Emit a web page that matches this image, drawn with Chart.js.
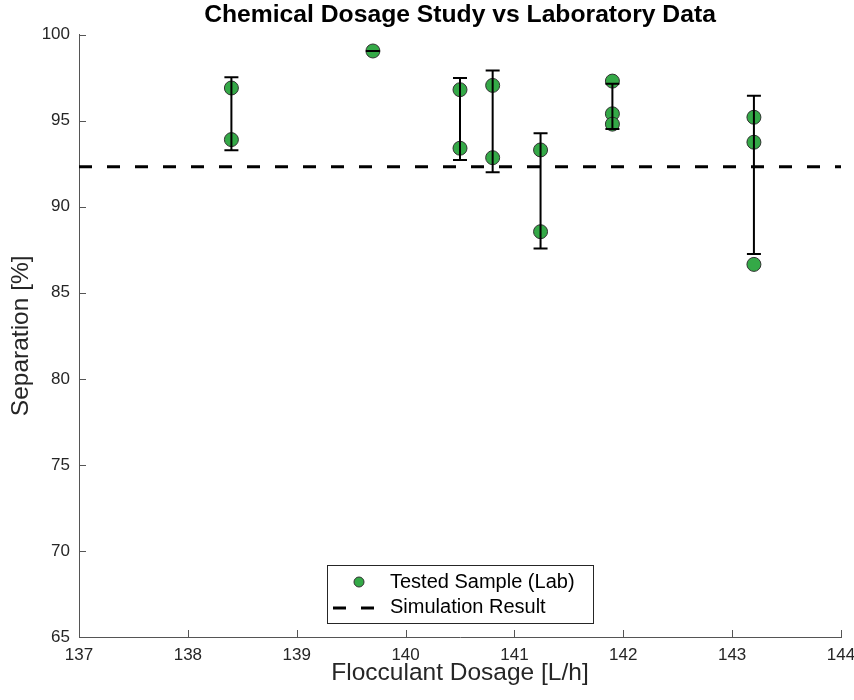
<!DOCTYPE html>
<html>
<head>
<meta charset="utf-8">
<script src="https://cdn.jsdelivr.net/npm/chart.js@4.4.1/dist/chart.umd.min.js"></script>
<style>
    html, body { margin: 0; padding: 0; background: #fff; }
    #wrap { width: 854px; height: 700px; }
</style>
</head>
<body>
<div id="wrap"><canvas id="dosage-chart" width="854" height="700"></canvas></div>
<script>
// lab samples (x = dosage, y = separation)
const dosage = [138.4, 138.4, 139.7, 140.5, 140.5, 140.8, 140.8, 141.24, 141.24, 141.9, 141.9, 141.9, 143.2, 143.2, 143.2];
const separation = [96.9, 93.9, 99.05, 96.8, 93.4, 97.05, 92.85, 93.3, 88.55, 97.3, 95.4, 94.8, 95.2, 93.75, 86.65];

// error bars per dosage group
const groupDosage = [138.4, 139.7, 140.5, 140.8, 141.24, 141.9, 143.2];
const errLow = [93.28, 99.05, 92.72, 92.0, 87.57, 94.52, 87.25];
const errHigh = [97.52, 99.05, 97.48, 97.92, 94.27, 97.14, 96.45];

// simulation line
const simDosage = [137, 144];
const simSeparation = [92.32, 92.32];

const xTicks = [137, 138, 139, 140, 141, 142, 143, 144];
const yTicks = [65, 70, 75, 80, 85, 90, 95, 100];

const FONT = "'Liberation Sans', Arial, Helvetica, sans-serif";
const GREEN = "#34a947";
const INK = "#262626";

const samplePoints = dosage.map((d, i) => ({ x: d, y: separation[i] }));
const simPoints = simDosage.map((d, i) => ({ x: d, y: simSeparation[i] }));

// error bars + inward ticks + legend, drawn by hand
const extrasPlugin = {
    id: "extras",
    afterDatasetsDraw(chart) {
        const ctx = chart.ctx;
        const xs = chart.scales.x;
        const ys = chart.scales.y;
        ctx.save();
        ctx.strokeStyle = "#000";
        ctx.lineWidth = 2;
        groupDosage.forEach((g, i) => {
            const px = xs.getPixelForValue(g);
            const top = ys.getPixelForValue(errHigh[i]);
            const bot = ys.getPixelForValue(errLow[i]);
            ctx.beginPath();
            ctx.moveTo(px, top);
            ctx.lineTo(px, bot);
            ctx.moveTo(px - 7, top);
            ctx.lineTo(px + 7, top);
            ctx.moveTo(px - 7, bot);
            ctx.lineTo(px + 7, bot);
            ctx.stroke();
        });
        ctx.restore();
    },
    afterDraw(chart) {
        const ctx = chart.ctx;
        const area = chart.chartArea;
        const xs = chart.scales.x;
        const ys = chart.scales.y;
        ctx.save();
        // inward tick marks (matlab style)
        ctx.strokeStyle = "#555";
        ctx.lineWidth = 1;
        ctx.beginPath();
        xTicks.forEach(t => {
            const px = Math.round(xs.getPixelForValue(t)) + 0.5;
            ctx.moveTo(px, area.bottom);
            ctx.lineTo(px, area.bottom - 7);
        });
        yTicks.forEach(t => {
            const py = Math.round(ys.getPixelForValue(t)) + 0.5;
            ctx.moveTo(area.left, py);
            ctx.lineTo(area.left + 7, py);
        });
        ctx.stroke();

        // legend box
        const lx = 327, ly = 565, lw = 266, lh = 58;
        ctx.fillStyle = "#fff";
        ctx.fillRect(lx, ly, lw, lh);
        ctx.strokeStyle = INK;
        ctx.strokeRect(lx + 0.5, ly + 0.5, lw, lh);

        ctx.beginPath();
        ctx.arc(359, 582, 5, 0, Math.PI * 2);
        ctx.fillStyle = GREEN;
        ctx.fill();
        ctx.strokeStyle = "#333";
        ctx.lineWidth = 1;
        ctx.stroke();

        ctx.strokeStyle = "#000";
        ctx.lineWidth = 3;
        ctx.beginPath();
        ctx.moveTo(333, 608); ctx.lineTo(346, 608);
        ctx.moveTo(361, 608); ctx.lineTo(374, 608);
        ctx.stroke();

        ctx.fillStyle = "#000";
        ctx.font = "20px " + FONT;
        ctx.textBaseline = "alphabetic";
        ctx.fillText("Tested Sample (Lab)", 390, 588);
        ctx.fillText("Simulation Result", 390, 613);
        ctx.restore();
    }
};

const dosageChart = new Chart(document.getElementById("dosage-chart"), {
    type: "scatter",
    data: {
        datasets: [
            {
                label: "Tested Sample (Lab)",
                data: samplePoints,
                backgroundColor: GREEN,
                borderColor: "#333",
                borderWidth: 1,
                pointRadius: 7,
                pointHoverRadius: 7
            },
            {
                type: "line",
                label: "Simulation Result",
                data: simPoints,
                borderColor: "#000",
                borderWidth: 3,
                borderDash: [13, 15],
                pointRadius: 0,
                fill: false
            }
        ]
    },
    options: {
        responsive: false,
        animation: false,
        layout: { padding: 0 },
        plugins: {
            legend: { display: false },
            tooltip: { enabled: false },
            title: {
                display: true,
                text: "Chemical Dosage Study vs Laboratory Data",
                fullSize: false,
                color: "#000",
                font: { family: FONT, size: 24.7, weight: "bold" },
                padding: { top: 0, bottom: 5 }
            }
        },
        scales: {
            x: {
                type: "linear",
                min: 137,
                max: 144,
                afterFit: s => { s.height = 63; s.paddingRight = 13; },
                afterBuildTicks: s => { s.ticks = xTicks.map(v => ({ value: v })); },
                grid: { display: false, drawTicks: false },
                border: { display: true, color: "#555", width: 1 },
                ticks: { color: INK, padding: 8, font: { family: FONT, size: 17 } },
                title: {
                    display: true,
                    text: "Flocculant Dosage [L/h]",
                    color: INK,
                    font: { family: FONT, size: 24.5 },
                    padding: { top: 0, bottom: 12 }
                }
            },
            y: {
                min: 65,
                max: 100,
                afterFit: s => { s.width = 79; },
                afterBuildTicks: s => { s.ticks = yTicks.map(v => ({ value: v })); },
                grid: { display: false, drawTicks: false },
                border: { display: true, color: "#555", width: 1 },
                ticks: { color: INK, padding: 9, font: { family: FONT, size: 17 } },
                title: {
                    display: true,
                    text: "Separation [%]",
                    color: INK,
                    font: { family: FONT, size: 24.5 },
                    padding: { top: 7, bottom: 0 }
                }
            }
        }
    },
    plugins: [extrasPlugin]
});
</script>
</body>
</html>
